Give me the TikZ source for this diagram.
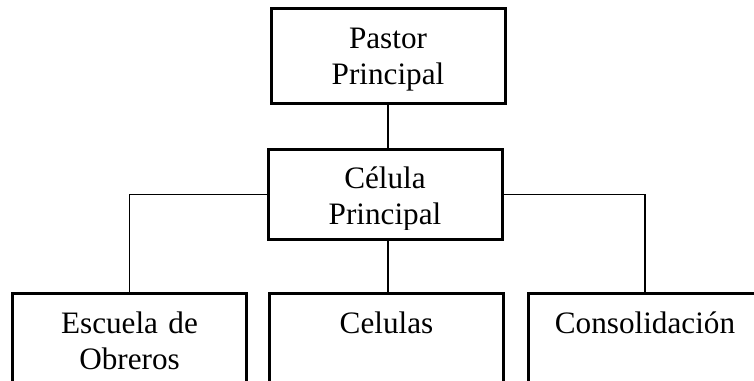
\documentclass[tikz,border=0pt]{standalone}
\usepackage{fontspec}
\setmainfont{Liberation Serif}
\tikzset{
  orgtext/.style={anchor=north, inner xsep=0pt, inner ysep=0pt,
    text width=117pt, align=center, text height=20pt,
    font=\fontsize{15.6pt}{18pt}\selectfont},
  orgbox/.style={orgtext, draw, line width=1.5pt},
  orgline/.style={line width=0.6pt}
}
\begin{document}
\begin{tikzpicture}[x=0.5pt,y=-0.5pt]
\useasboundingbox (0,0) rectangle (754,380);
\clip (0,0) rectangle (754,380);
% boxes
\node[orgbox, text depth=27.5pt] (pastor) at (388,7) {Pastor\\Principal};
\node[orgbox, text depth=25pt] (celula) at (385,148) {};
\begin{scope}
  \clip (celula.north west) rectangle ([yshift=6pt]celula.south east);
  \node[orgtext] (celulatxt) at (celula.north) {Célula\\Principal};
\end{scope}
\node[orgbox, text depth=60pt] (escuela) at (129.5,292) {Escuela de\\Obreros};
\node[orgbox, text depth=60pt] (celulas) at (386.5,292) {Celulas};
\node[orgbox, text depth=60pt] (consol) at (645,292) {Consolidación};
% connectors
\draw[orgline] (pastor.south) -- (pastor.south |- celula.north);
\draw[orgline] (pastor.south |- celula.south) -- (pastor.south |- celulas.north);
\draw[orgline] (celula.west) -| (escuela.north);
\draw[orgline] (celula.east) -| (consol.north);
\end{tikzpicture}
\end{document}
